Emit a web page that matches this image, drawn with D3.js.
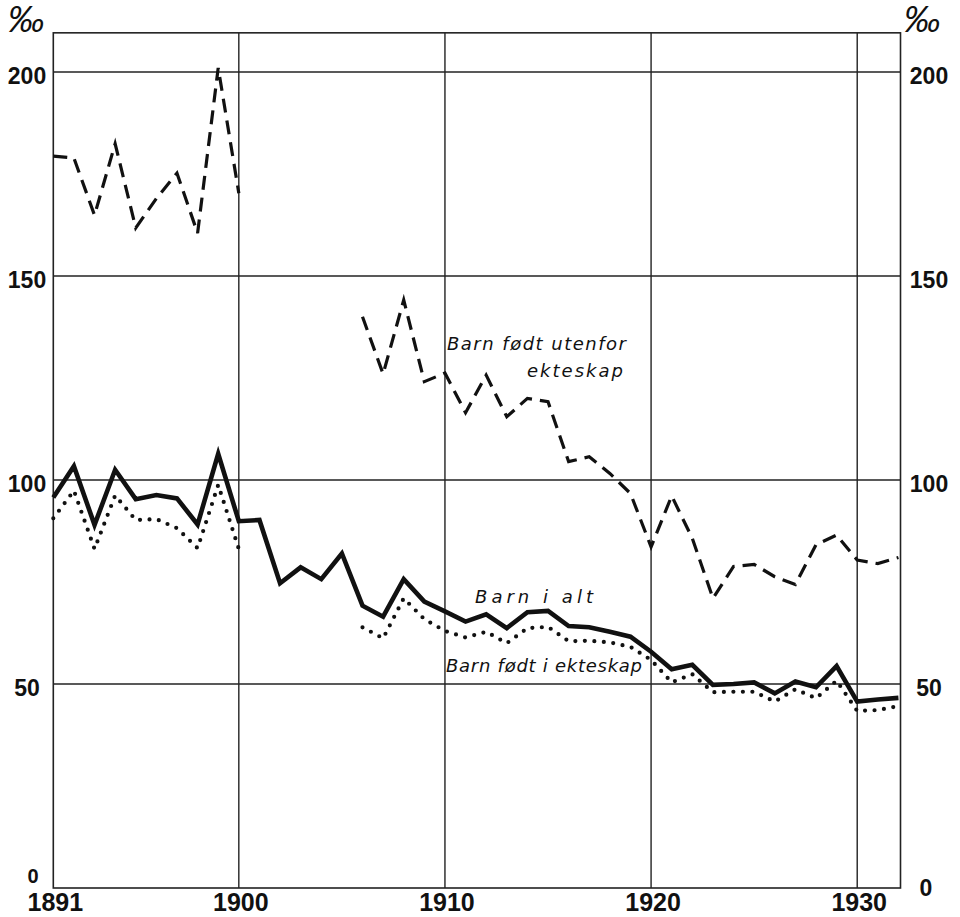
<!DOCTYPE html>
<html>
<head>
<meta charset="utf-8">
<script src="https://cdn.jsdelivr.net/npm/d3@7"></script>
<style>
  html, body { margin: 0; padding: 0; background: #fff; }
  svg { display: block; }
</style>
</head>
<body>
<svg id="chart" width="960" height="917"></svg>
<script>
// ---- data (per mille) ----
const years = d3.range(1891, 1933);
const xTickYears = [1891, 1900, 1910, 1920, 1930];
const xGridYears = [1900, 1910, 1920, 1930];
const yTicks = [0, 50, 100, 150, 200];
const yGrid = [50, 100, 150, 200];

// Barn i alt (solid)
const barnIalt = [
  95.7, 103.4, 89.0, 102.5, 95.3, 96.3, 95.5, 89.1, 106.4, 89.9,
  90.2, 74.7, 78.6, 75.7, 82.0, 69.2, 66.5, 75.7, 70.2, 67.8,
  65.3, 67.1, 63.7, 67.6, 67.9, 64.2, 63.9, 62.8, 61.6, 57.9,
  53.6, 54.7, 49.8, 50.0, 50.4, 47.7, 50.6, 49.2, 54.4, 45.7,
  46.2, 46.6
];
// Barn født i ekteskap (dotted)
const barnIEkteskap = [
  90.6, 97.4, 83.1, 96.2, 90.2, 90.4, 88.2, 83.3, 98.8, 83.1,
  null, null, null, null, null, 63.9, 61.2, 71.0, 65.9, 63.0,
  61.4, 62.8, 60.0, 63.7, 64.0, 60.5, 60.6, 60.2, 59.1, 55.9,
  50.4, 52.4, 48.0, 48.1, 48.1, 45.7, 48.7, 46.5, 50.8, 43.4,
  43.6, 44.6
];
// Barn født utenfor ekteskap (dashed)
const barnUtenfor = [
  179.4, 178.9, 164.9, 182.4, 161.8, 169.0, 175.2, 160.5, 201.0, 170.3,
  null, null, null, null, null, 140.0, 126.0, 144.1, 124.1, 126.2,
  116.5, 125.7, 115.5, 120.0, 119.2, 104.5, 105.7, 101.6, 96.7, 83.6,
  96.1, 85.7, 71.0, 78.8, 79.3, 76.3, 74.4, 84.1, 86.5, 80.4,
  79.5, 81.0
];

// ---- layout ----
const svg = d3.select("#chart");
const x = d3.scaleLinear().domain([1891, 1932.1]).range([53.3, 900.5]);
const y = d3.scaleLinear().domain([0, 200]).range([888, 72]);
const yTop = 209.6;

const ink = "#111";
const g = svg.append("g");

// grid
g.selectAll("line.vg").data(xGridYears).join("line")
  .attr("x1", d => x(d)).attr("x2", d => x(d))
  .attr("y1", y(yTop)).attr("y2", y(0))
  .attr("stroke", "#222").attr("stroke-width", 1.4);
g.selectAll("line.hg").data(yGrid).join("line")
  .attr("x1", x(1891)).attr("x2", x(1932.1))
  .attr("y1", d => y(d)).attr("y2", d => y(d))
  .attr("stroke", "#222").attr("stroke-width", 1.4);

// frame
g.append("rect")
  .attr("x", x(1891)).attr("y", y(yTop))
  .attr("width", x(1932.1) - x(1891)).attr("height", y(0) - y(yTop))
  .attr("fill", "none").attr("stroke", "#222").attr("stroke-width", 1.6);

// lines
const line = d3.line()
  .defined(d => d[1] !== null)
  .x(d => x(d[0])).y(d => y(d[1]));

function series(vals) { return years.map((yr, i) => [yr, vals[i]]); }

g.append("path").datum(series(barnUtenfor))
  .attr("d", line).attr("fill", "none")
  .attr("stroke", ink).attr("stroke-width", 3.2)
  .attr("stroke-dasharray", "14 8").attr("stroke-linejoin", "miter");

g.append("path").datum(series(barnIEkteskap))
  .attr("d", line).attr("fill", "none")
  .attr("stroke", ink).attr("stroke-width", 4.2)
  .attr("stroke-linecap", "round")
  .attr("stroke-dasharray", "0 9.5");

g.append("path").datum(series(barnIalt))
  .attr("d", line).attr("fill", "none")
  .attr("stroke", ink).attr("stroke-width", 4.6)
  .attr("stroke-linejoin", "miter");

// y axis labels
const yLabFont = "'Liberation Sans', Arial, sans-serif";
g.selectAll("text.yl").data(yTicks).join("text")
  .attr("x", d => d === 0 ? 33 : 27)
  .attr("y", d => d === 0 ? y(d) - 5 : y(d) + 11.5)
  .attr("text-anchor", "middle")
  .attr("font-family", yLabFont).attr("font-weight", "bold")
  .attr("font-size", d => d === 0 ? 20 : 23).attr("fill", ink)
  .text(d => d);
g.selectAll("text.yr").data(yTicks).join("text")
  .attr("x", d => d === 0 ? 926 : 929)
  .attr("y", d => d === 0 ? y(d) + 8 : y(d) + 11.5)
  .attr("text-anchor", "middle")
  .attr("font-family", yLabFont).attr("font-weight", "bold")
  .attr("font-size", 23).attr("fill", ink)
  .text(d => d);

// per mille signs
[26, 922].forEach(cx => {
  g.append("text").attr("x", cx).attr("y", 32)
    .attr("text-anchor", "middle")
    .attr("font-family", yLabFont).attr("font-style", "italic")
    .attr("font-size", 36).attr("fill", ink).text("‰");
});

// x axis labels
g.selectAll("text.xl").data(xTickYears).join("text")
  .attr("x", d => x(d) + 2)
  .attr("y", 911)
  .attr("text-anchor", "middle")
  .attr("font-family", "'Liberation Sans Narrow', 'Liberation Sans', sans-serif")
  .attr("font-weight", "bold").attr("font-size", 25).attr("fill", ink)
  .text(d => d);

// series labels
const labFont = "'DejaVu Sans', sans-serif";
const labels = [
  { t: "Barn født utenfor", x: 447, y: 350, w: 179 },
  { t: "ekteskap", x: 527, y: 377, w: 96 },
  { t: "Barn i alt", x: 475, y: 603, w: 118 },
  { t: "Barn født i ekteskap", x: 446, y: 672, w: 196 }
];
g.selectAll("text.lab").data(labels).join("text")
  .attr("x", d => d.x).attr("y", d => d.y)
  .attr("textLength", d => d.w).attr("lengthAdjust", "spacing")
  .attr("font-family", labFont).attr("font-style", "italic")
  .attr("font-size", 18).attr("fill", ink)
  .text(d => d.t);
</script>
</body>
</html>
